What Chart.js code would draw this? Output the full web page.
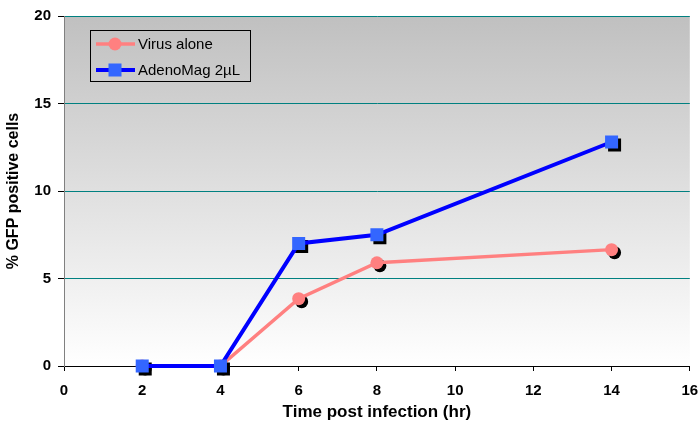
<!DOCTYPE html>
<html>
<head>
<meta charset="utf-8">
<script src="https://cdn.jsdelivr.net/npm/chart.js@4"></script>
<style>
  html, body { margin: 0; padding: 0; background: #fff; }
</style>
</head>
<body>
<canvas id="myChart" width="699" height="423"></canvas>
<script>
  const hours = [2, 4, 6, 8, 14];
  const virusAlone = [0, 0, 3.85, 5.9, 6.65];
  const adenoMag = [0, 0, 7.0, 7.5, 12.8];
  const seriesLabels = ['Virus alone', 'AdenoMag 2\u00b5L'];

  /* gray to white background inside the plot area */
  const plotBackground = {
    id: 'plotBackground',
    beforeDraw(chart) {
      const { ctx, chartArea: a } = chart;
      const g = ctx.createLinearGradient(0, a.top, 0, a.bottom);
      g.addColorStop(0, '#c0c0c0');
      g.addColorStop(1, '#ffffff');
      ctx.save();
      ctx.fillStyle = g;
      ctx.fillRect(a.left, a.top, a.right - a.left, a.bottom - a.top);
      ctx.restore();
    }
  };

  function drawMarker(ctx, style, x, y, color) {
    ctx.fillStyle = color;
    if (style === 'rect') {
      ctx.fillRect(x - 6.5, y - 6.5, 13, 13);
    } else {
      ctx.beginPath();
      ctx.arc(x, y, 6.5, 0, Math.PI * 2);
      ctx.fill();
    }
  }

  /* black drop shadow under each marker */
  const markerShadow = {
    id: 'markerShadow',
    beforeDatasetDraw(chart, args) {
      const ds = chart.data.datasets[args.index];
      const ctx = chart.ctx;
      ctx.save();
      args.meta.data.forEach(function(pt) {
        drawMarker(ctx, ds.pointStyle, pt.x + 3, pt.y + 3, '#000');
      });
      ctx.restore();
    }
  };

  /* boxed legend in the top left of the plot */
  const boxLegend = {
    id: 'boxLegend',
    afterDraw(chart) {
      const ctx = chart.ctx;
      const items = [chart.data.datasets[1], chart.data.datasets[0]];
      ctx.save();
      ctx.strokeStyle = '#000';
      ctx.lineWidth = 1;
      ctx.strokeRect(90.5, 30.5, 160, 51);
      ctx.font = '15px "Liberation Sans", Arial, sans-serif';
      ctx.textBaseline = 'middle';
      items.forEach(function(ds, i) {
        const y = 44 + i * 26;
        ctx.strokeStyle = ds.borderColor;
        ctx.lineWidth = ds.borderWidth;
        ctx.beginPath();
        ctx.moveTo(96, y);
        ctx.lineTo(135, y);
        ctx.stroke();
        drawMarker(ctx, ds.pointStyle, 115, y, ds.pointBackgroundColor);
        ctx.fillStyle = '#000';
        ctx.fillText(ds.label, 138, y + 1);
      });
      ctx.restore();
    }
  };

  const ctx = document.getElementById('myChart');

  new Chart(ctx, {
    type: 'line',
    data: {
      datasets: [{
        label: seriesLabels[1],
        data: hours.map((h, i) => ({ x: h, y: adenoMag[i] })),
        borderColor: '#0000ff',
        borderWidth: 4,
        pointStyle: 'rect',
        pointRadius: 9.2,
        pointBackgroundColor: '#3366ff',
        pointBorderWidth: 0,
        clip: false,
        order: 0
      }, {
        label: seriesLabels[0],
        data: hours.map((h, i) => ({ x: h, y: virusAlone[i] })),
        borderColor: '#ff8080',
        borderWidth: 3.5,
        pointStyle: 'circle',
        pointRadius: 6.5,
        pointBackgroundColor: '#ff8080',
        pointBorderWidth: 0,
        clip: false,
        order: 1
      }]
    },
    options: {
      responsive: false,
      animation: false,
      layout: { padding: { top: 16, right: 9, left: 0, bottom: 0 } },
      plugins: {
        legend: { display: false },
        tooltip: { enabled: false }
      },
      scales: {
        x: {
          type: 'linear',
          min: 0,
          max: 16,
          ticks: {
            stepSize: 2,
            color: '#000',
            padding: 11,
            maxRotation: 0,
            font: { family: '"Liberation Sans", Arial', size: 15, weight: 'bold' }
          },
          grid: { drawOnChartArea: false, tickLength: 5, tickColor: '#000' },
          border: { color: '#000', width: 1 },
          title: {
            display: true,
            text: 'Time post infection (hr)',
            color: '#000',
            padding: { top: 0, bottom: 0 },
            font: { family: '"Liberation Sans", Arial', size: 17, weight: 'bold' }
          },
          afterFit: s => { s.height = 57; s.paddingRight = 0; s.paddingLeft = 0; }
        },
        y: {
          min: 0,
          max: 20,
          ticks: {
            stepSize: 5,
            color: '#000',
            padding: 7,
            font: { family: '"Liberation Sans", Arial', size: 15, weight: 'bold' }
          },
          grid: {
            color: c => (c.tick && c.tick.value === 0 ? 'rgba(0,0,0,0)' : '#008080'),
            tickColor: '#000',
            tickLength: 6
          },
          border: { color: '#808080', width: 1 },
          title: {
            display: true,
            text: '% GFP positive cells',
            color: '#000',
            padding: { top: 4, bottom: 0 },
            font: { family: '"Liberation Sans", Arial', size: 16, weight: 'bold' }
          },
          afterFit: s => { s.width = 64; s.paddingTop = 0; s.paddingBottom = 0; }
        }
      }
    },
    plugins: [plotBackground, markerShadow, boxLegend]
  });
</script>
</body>
</html>
